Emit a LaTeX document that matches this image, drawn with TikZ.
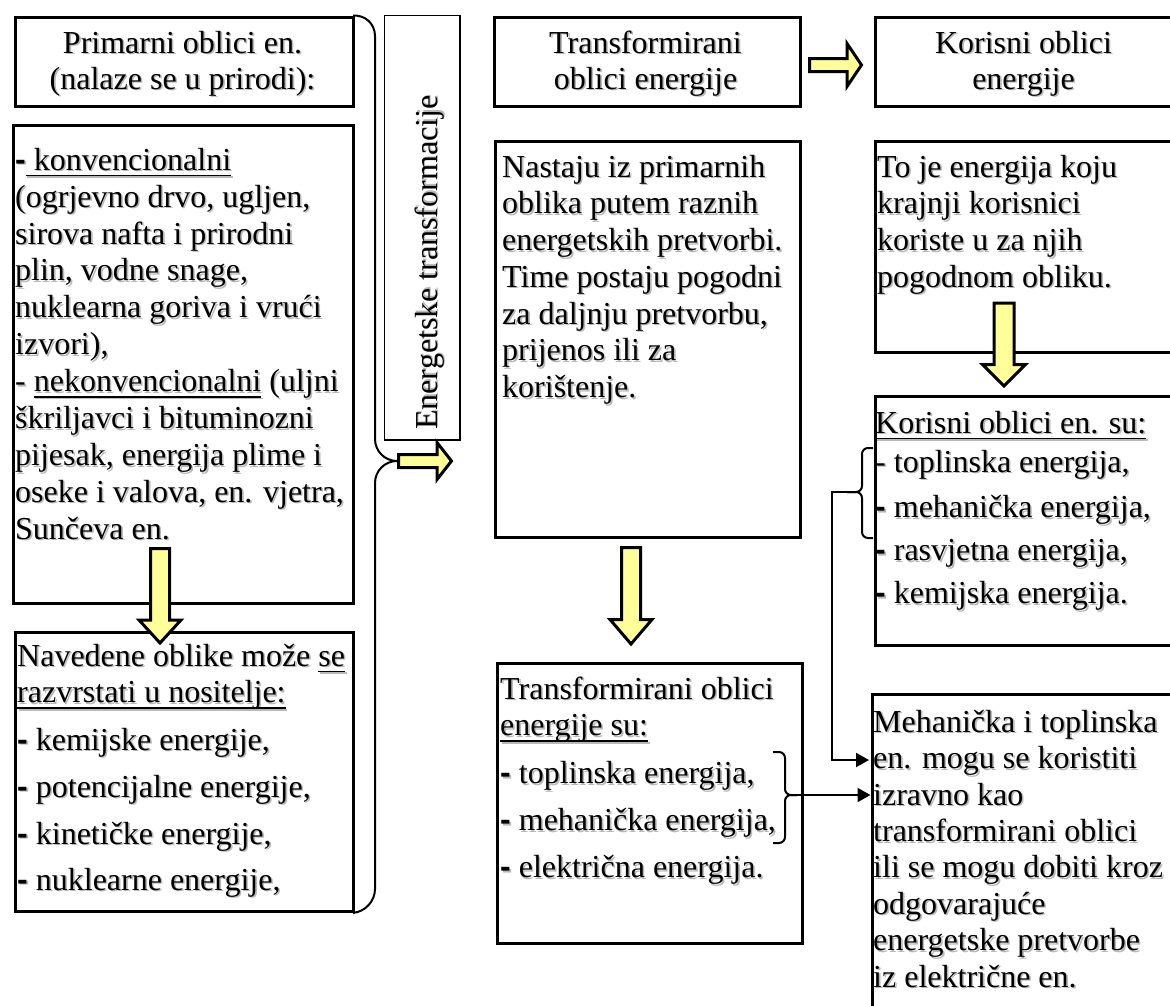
\documentclass[tikz,border=0pt]{standalone}
\usepackage{fontspec}
\setmainfont{Liberation Serif}
\newfontfamily\dashfont{Liberation Sans}
\newsavebox\ulbox
\newcommand\uln[1]{\sbox\ulbox{#1}\rlap{\rule[-6.1pt]{\wd\ulbox}{1.6pt}}\usebox\ulbox}
\newcommand\bd{{\dashfont\bfseries -}}
\newcommand\st{\rule{0pt}{25pt}}
\usetikzlibrary{arrows.meta}
\definecolor{arrowfill}{RGB}{255,255,153}
\definecolor{shadowgray}{RGB}{185,185,185}
\newcommand\RArrow[6]{\draw[blockarrow] (#1,#4-#5) -- (#2,#4-#5) -- (#2,#4-#6) -- (#3,#4) -- (#2,#4+#6) -- (#2,#4+#5) -- (#1,#4+#5) -- cycle;}
\newcommand\DArrow[6]{\draw[blockarrow] (#1-#5,#2) -- (#1+#5,#2) -- (#1+#5,#3) -- (#1+#6,#3) -- (#1,#4) -- (#1-#6,#3) -- (#1-#5,#3) -- cycle;}
% text node with a soft grey drop shadow: options, name, position, text
\newcommand\TT[4]{\node[#1,text=shadowgray,xshift=1.6pt,yshift=-1.6pt] (#2s) at (#3) {#4};
  \node[#1] (#2) at (#3) {#4};}
\begin{document}
\begin{tikzpicture}[x=1pt,y=-1pt,
 box/.style={draw,line width=3.2pt,rectangle,inner sep=0pt,anchor=north west},
 txt/.style={anchor=north west,inner sep=0pt,align=left,font=\fontsize{32}{36.7}\selectfont},
 ctxt/.style={anchor=north,inner sep=0pt,align=center,font=\fontsize{32}{36}\selectfont},
 blockarrow/.style={draw,line width=3pt,fill=arrowfill,line join=miter},
 conn/.style={line width=2pt},
 brace/.style={line width=2pt,rounded corners=6pt},
 tip/.style={-{Triangle[length=13pt,width=14pt]}}]
\useasboundingbox (0,0) rectangle (1170,1005);
\clip (0,0) rectangle (1170,1005);
\fill[white] (0,0) rectangle (1170,1005);

% texts
\TT{ctxt}{b1t}{182.5,28}{\st Primarni oblici en.\\(nalaze se u prirodi):}
\TT{txt,font=\fontsize{32}{36.9}\selectfont}{b2t}{15,145}{\st\bd\uln{ konvencionalni}\\
(ogrjevno drvo, ugljen,\\
sirova nafta i prirodni\\
plin, vodne snage,\\
nuklearna goriva i vrući\\
izvori),\\
- \uln{nekonvencionalni} (uljni\\
škriljavci i bituminozni\\
pijesak, energija plime i\\
oseke i valova, en. vjetra,\\
Sunčeva en.}
\TT{txt}{b3t}{17,641}{\st Navedene oblike može \uln{se}\\
\uln{razvrstati u nositelje:}\\[10.4pt]
\bd{} kemijske energije,\\[10.4pt]
\bd{} potencijalne energije,\\[10.4pt]
\bd{} kinetičke energije,\\[9.4pt]
\bd{} nuklearne energije,}
\TT{rotate=90,anchor=base west,inner sep=0pt,font=\fontsize{32}{36}\selectfont}{vbt}{437,430}{Energetske transformacije}
\TT{ctxt}{t1t}{645.5,28}{\st Transformirani\\oblici energije}
\TT{ctxt}{k1t}{1023.5,28}{\st Korisni oblici\\energije}
\TT{txt}{t2t}{502,152}{\st Nastaju iz primarnih\\
oblika putem raznih\\
energetskih pretvorbi.\\
Time postaju pogodni\\
za daljnju pretvorbu,\\
prijenos ili za\\
korištenje.}
\TT{txt}{t3t}{500,674}{\st Transformirani oblici\\
\uln{energije su:}\\[11pt]
\bd{} toplinska energija,\\[10.4pt]
\bd{} mehanička energija,\\[10.4pt]
\bd{} električna energija.}
\TT{txt}{k2t}{877,152}{\st To je energija koju\\
krajnji korisnici\\
koriste u za njih\\
pogodnom obliku.}
\TT{txt}{k3t}{875,408}{\st\uln{Korisni oblici en. su:}\\[2.4pt]
- toplinska energija,\\[8.4pt]
\bd{} mehanička energija,\\[6.4pt]
\bd{} rasvjetna energija,\\[6.4pt]
\bd{} kemijska energija.}
\TT{txt,font=\fontsize{32}{36.4}\selectfont}{mt}{873,707}{\st Mehanička i toplinska\\
en. mogu se koristiti\\
izravno kao\\
transformirani oblici\\
ili se mogu dobiti kroz\\
odgovarajuće\\
energetske pretvorbe\\
iz električne en.}

% boxes
\node[box,minimum width=338pt,minimum height=89pt] (b1) at (13.5,15.5) {};
\node[box,minimum width=340pt,minimum height=478pt] (b2) at (11.5,123.5) {};
\node[box,minimum width=338pt,minimum height=279pt] (b3) at (13.5,630.5) {};
\node[box,line width=1.5pt,minimum width=75.5pt,minimum height=424.5pt] (vb) at (383.75,14.75) {};
\node[box,minimum width=306pt,minimum height=89pt] (t1) at (492.5,15.5) {};
\node[box,minimum width=305pt,minimum height=396pt] (t2) at (493.5,139.5) {};
\node[box,minimum width=305pt,minimum height=280pt] (t3) at (495.5,661.5) {};
\node[box,minimum width=302pt,minimum height=89pt] (k1) at (873.5,15.5) {};
\node[box,minimum width=302pt,minimum height=211pt] (k2) at (873.5,139.5) {};
\node[box,minimum width=302pt,minimum height=249pt] (k3) at (873.5,394.5) {};
\node[box,minimum width=305pt,minimum height=330pt] (m) at (870.5,692.5) {};

% big brace on the left column
\coordinate (aB) at (398.5,461);
\draw[conn,rounded corners=22pt] (b1.north east) -- (375,14) -- (375,461) -- (aB);
\draw[conn,rounded corners=22pt] (aB) -- (375,461) -- (375,911) -- (b3.south east);

% bracket in t3 and arrow to m
\coordinate (rbtip) at (797,795);
\draw[brace] (773,752) -- (785,752) -- (785,795) -- (rbtip);
\draw[brace] (rbtip) -- (785,795) -- (785,843) -- (773,843);
\draw[conn,tip] (rbtip) -- (rbtip -| m.west);

% brace at k3 and arrow to m
\coordinate (lbtip) at (847,492);
\coordinate (mIn) at (869,760);
\draw[brace] (873,448) -- (862,448) -- (862,492) -- (lbtip);
\draw[brace] (lbtip) -- (862,492) -- (862,538) -- (873,538);
\draw[conn,tip] (lbtip) -- (832,492) |- (mIn);

% block arrows
\DArrow{160}{548.5}{620}{643}{9.5}{21}
\DArrow{631}{547.5}{619.5}{644}{9.5}{21}
\DArrow{1004}{303}{364.5}{386}{10}{21.5}
\RArrow{398.5}{437}{451.5}{461}{6.5}{18.5}
\RArrow{809.5}{847}{861.5}{65}{6.5}{21.5}
\end{tikzpicture}
\end{document}
